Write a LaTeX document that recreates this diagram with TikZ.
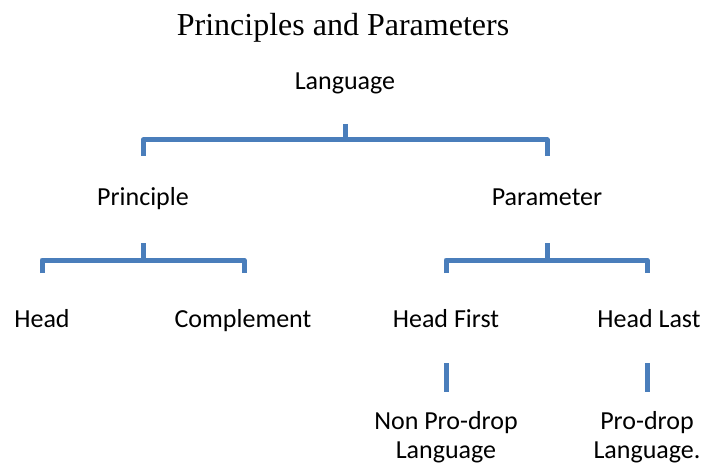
\documentclass[tikz,border=0pt]{standalone}
\usepackage{fontspec}
\setmainfont{Liberation Serif}
\newfontfamily\labelfont{Carlito}
\usetikzlibrary{positioning}
\definecolor{brkblue}{RGB}{74,126,187}

\begin{document}
\begin{tikzpicture}[x=1pt,y=-1pt,
    lbl/.style={font=\labelfont\fontsize{26}{29}\selectfont, inner sep=0pt, align=center, anchor=base},
    brk/.style={draw=brkblue, line width=5pt, line join=round}]
  \useasboundingbox (0,0) rectangle (704,465);
  \node[inner sep=0pt, anchor=base, font=\fontsize{32}{38}\selectfont] (title) at (343,36) {Principles and Parameters};
  \node[lbl] (lang) at (345,90) {Language};
  \node[lbl] (prin) at (143,206) {Principle};
  \node[lbl] (para) at (547,206) {Parameter};
  \node[lbl] (head) at (42,327) {Head};
  \node[lbl] (comp) at (243,327) {Complement};
  \node[lbl] (hfirst) at (446,327) {Head First};
  \node[lbl] (hlast) at (649,327) {Head Last};
  \node[lbl] (nonpro) at (446,458) {Non Pro-drop\\Language};
  \node[lbl] (pro) at (647,458) {Pro-drop\\Language.};
  % brackets
  \coordinate (langstem) at (345,124);
  \coordinate (langbar) at (345,140);
  \coordinate (prinend) at (143,156);
  \coordinate (paraend) at (547,156);
  \draw[brk] (langstem) -- (langbar);
  \draw[brk] (prinend) |- (langbar) -| (paraend);
  \coordinate (prinstem) at (143,243);
  \coordinate (prinbar) at (143,260);
  \coordinate (headend) at (42,273);
  \coordinate (compend) at (244,273);
  \draw[brk] (prinstem) -- (prinbar);
  \draw[brk] (headend) |- (prinbar) -| (compend);
  \coordinate (parastem) at (547,243);
  \coordinate (parabar) at (547,260);
  \coordinate (firstend) at (446,273);
  \coordinate (lastend) at (647,273);
  \draw[brk] (parastem) -- (parabar);
  \draw[brk] (firstend) |- (parabar) -| (lastend);
  % single links
  \coordinate (firsttop) at (446,363);
  \coordinate (firstbot) at (446,392);
  \coordinate (lasttop) at (647,363);
  \coordinate (lastbot) at (647,392);
  \draw[brk] (firsttop) -- (firstbot);
  \draw[brk] (lasttop) -- (lastbot);
\end{tikzpicture}
\end{document}
